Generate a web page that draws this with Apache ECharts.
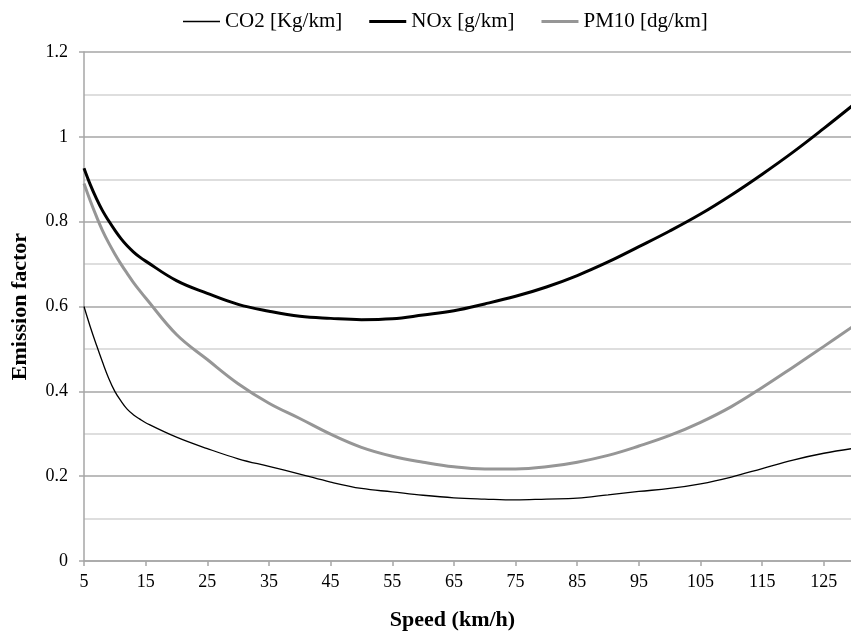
<!DOCTYPE html>
<html>
<head>
<meta charset="utf-8">
<script src="https://cdn.jsdelivr.net/npm/echarts@6/dist/echarts.min.js"></script>
<style>
  html, body { margin: 0; padding: 0; background: #fff; }
  #chart { width: 851px; height: 636px; }
</style>
</head>
<body>
<div id="chart"></div>
<script>
// Speed (km/h) at which each emission factor was evaluated
const speeds = [5, 6, 7, 8, 9, 10, 11, 12, 13, 14, 15, 20, 25, 30, 35, 40, 45, 50, 55, 60,
                65, 70, 75, 80, 85, 90, 95, 100, 105, 110, 115, 120, 125, 130];

const co2 = [0.600, 0.553, 0.510, 0.469, 0.431, 0.400, 0.377, 0.358, 0.345, 0.335, 0.326,
             0.292, 0.265, 0.241, 0.223, 0.205, 0.186, 0.171, 0.163, 0.155, 0.149, 0.146,
             0.144, 0.146, 0.148, 0.156, 0.164, 0.171, 0.182, 0.198, 0.218, 0.238, 0.254, 0.266];

const nox = [0.926, 0.888, 0.855, 0.826, 0.802, 0.780, 0.760, 0.743, 0.729, 0.717, 0.707,
             0.661, 0.631, 0.605, 0.589, 0.577, 0.572, 0.569, 0.571, 0.580, 0.590, 0.606,
             0.624, 0.646, 0.673, 0.705, 0.741, 0.778, 0.818, 0.863, 0.912, 0.964, 1.020, 1.078];

const pm10 = [0.890, 0.850, 0.813, 0.779, 0.750, 0.724, 0.700, 0.678, 0.657, 0.638, 0.620,
              0.534, 0.475, 0.418, 0.372, 0.336, 0.299, 0.268, 0.247, 0.233, 0.222, 0.217,
              0.217, 0.222, 0.233, 0.249, 0.271, 0.296, 0.327, 0.364, 0.409, 0.457, 0.506, 0.556];

const speedTicks = [5, 15, 25, 35, 45, 55, 65, 75, 85, 95, 105, 115, 125];

const seriesNames = ['CO2 [Kg/km]', 'NOx [g/km]', 'PM10 [dg/km]'];
const seriesColors = ['#000000', '#000000', '#969696'];
const seriesWidths = [1.3, 3, 3];

const pairs = vals => speeds.map((s, i) => [s, vals[i]]);

// Legend key: a plain horizontal stroke of the series' thickness, centred in its box
const ICON_W = 37, ICON_H = 20;
const strokeIcon = t => {
  const y0 = ICON_H / 2 - t / 2, y1 = ICON_H / 2 + t / 2;
  return 'path://M0,0M' + ICON_W + ',' + ICON_H +
         'M0,' + y0 + 'L' + ICON_W + ',' + y0 + 'L' + ICON_W + ',' + y1 + 'L0,' + y1 + 'Z';
};

const FONT = '"Liberation Serif", "Times New Roman", serif';

const chart = echarts.init(document.getElementById('chart'), null, { renderer: 'canvas' });

chart.setOption({
  animation: false,
  backgroundColor: '#ffffff',
  textStyle: { fontFamily: FONT },
  legend: {
    top: 6,
    left: 178,
    itemWidth: ICON_W,
    itemHeight: ICON_H,
    itemGap: 27,
    textStyle: { fontFamily: FONT, fontSize: 21, color: '#000' },
    data: seriesNames.map((n, i) => ({
      name: n,
      icon: strokeIcon(seriesWidths[i]),
      itemStyle: { color: seriesColors[i], borderWidth: 0 }
    }))
  },
  grid: { left: 84, right: 0, top: 52, bottom: 74 },
  xAxis: {
    type: 'value',
    min: 5,
    max: 129.4,
    name: 'Speed (km/h)',
    nameLocation: 'middle',
    nameGap: 48,
    nameTextStyle: { fontFamily: FONT, fontSize: 22, fontWeight: 'bold', color: '#000', padding: [0, 30, 0, 0] },
    axisLine: { show: true, onZero: false, lineStyle: { color: '#a6a6a6', width: 1.5 } },
    axisTick: { show: true, length: 5, customValues: speedTicks, lineStyle: { color: '#a6a6a6', width: 1.5 } },
    axisLabel: { customValues: speedTicks, margin: 12, fontFamily: FONT, fontSize: 18, color: '#000' },
    splitLine: { show: false }
  },
  yAxis: {
    type: 'value',
    min: 0,
    max: 1.2,
    interval: 0.2,
    name: 'Emission factor',
    nameLocation: 'middle',
    nameGap: 53,
    nameTextStyle: { fontFamily: FONT, fontSize: 22, fontWeight: 'bold', color: '#000' },
    axisLine: { show: true, lineStyle: { color: '#a6a6a6', width: 1.5 } },
    axisTick: { show: true, length: 5, lineStyle: { color: '#a6a6a6', width: 1.5 } },
    axisLabel: { margin: 16, fontFamily: FONT, fontSize: 18, color: '#000' },
    splitLine: { show: true, lineStyle: { color: '#a6a6a6', width: 1.5 } },
    minorTick: { show: false, splitNumber: 2 },
    minorSplitLine: { show: true, lineStyle: { color: '#d4d4d4', width: 1.5 } }
  },
  series: seriesNames.map((n, i) => ({
    name: n,
    type: 'line',
    data: pairs([co2, nox, pm10][i]),
    symbol: 'none',
    smooth: 0.4,
    lineStyle: { color: seriesColors[i], width: seriesWidths[i] },
    itemStyle: { color: seriesColors[i] },
    z: i === 2 ? 2 : 3
  }))
});
</script>
</body>
</html>
